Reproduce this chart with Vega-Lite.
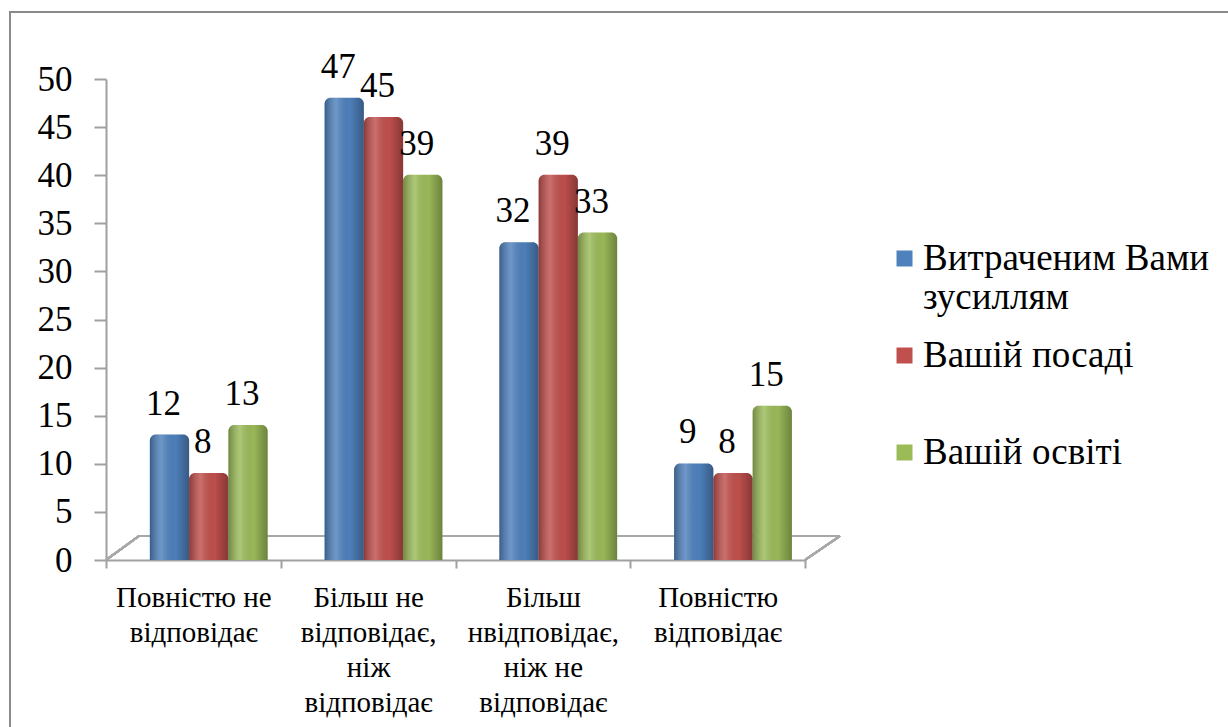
{
  "$schema": "https://vega.github.io/schema/vega-lite/v6.json",
  "width": 1224,
  "height": 721,
  "autosize": {"type": "none"},
  "padding": {"left": 10, "top": 12, "right": -6, "bottom": -6},
  "background": "white",
  "config": {"view": {"stroke": "#8a8a8a", "strokeWidth": 2}, "font": "Liberation Serif"},
  "data": {
    "values": [
      {"category": "Повністю не відповідає", "series": "Витраченим Вами зусиллям", "value": 12},
      {"category": "Повністю не відповідає", "series": "Вашій посаді", "value": 8},
      {"category": "Повністю не відповідає", "series": "Вашій освіті", "value": 13},
      {"category": "Більш не відповідає, ніж відповідає", "series": "Витраченим Вами зусиллям", "value": 47},
      {"category": "Більш не відповідає, ніж відповідає", "series": "Вашій посаді", "value": 45},
      {"category": "Більш не відповідає, ніж відповідає", "series": "Вашій освіті", "value": 39},
      {"category": "Більш нвідповідає, ніж не відповідає", "series": "Витраченим Вами зусиллям", "value": 32},
      {"category": "Більш нвідповідає, ніж не відповідає", "series": "Вашій посаді", "value": 39},
      {"category": "Більш нвідповідає, ніж не відповідає", "series": "Вашій освіті", "value": 33},
      {"category": "Повністю відповідає", "series": "Витраченим Вами зусиллям", "value": 9},
      {"category": "Повністю відповідає", "series": "Вашій посаді", "value": 8},
      {"category": "Повністю відповідає", "series": "Вашій освіті", "value": 15}
    ]
  },
  "encoding": {
    "x": {
      "field": "category",
      "type": "nominal",
      "sort": null,
      "scale": {
        "domain": ["Повністю не відповідає", "Більш не відповідає, ніж відповідає", "Більш нвідповідає, ніж не відповідає", "Повністю відповідає"],
        "range": [96, 795],
        "paddingInner": 0,
        "paddingOuter": 0
      },
      "axis": {
        "title": null,
        "offset": -173,
        "labelAngle": 0,
        "tickBand": "extent",
        "tickSize": 8,
        "tickWidth": 2,
        "tickColor": "#a0a0a0",
        "domainColor": "#a0a0a0",
        "domainWidth": 2,
        "labelFont": "Liberation Serif",
        "labelFontSize": 29,
        "labelColor": "black",
        "labelLineHeight": 35,
        "labelBaseline": "top",
        "labelPadding": 15,
        "labelLimit": 300,
        "labelExpr": "datum.value == 'Повністю не відповідає' ? ['Повністю не', 'відповідає'] : datum.value == 'Більш не відповідає, ніж відповідає' ? ['Більш не', 'відповідає,', 'ніж', 'відповідає'] : datum.value == 'Більш нвідповідає, ніж не відповідає' ? ['Більш', 'нвідповідає,', 'ніж не', 'відповідає'] : datum.value == 'Повністю відповідає' ? ['Повністю', 'відповідає'] : ''"
      }
    },
    "xOffset": {
      "field": "series",
      "type": "nominal",
      "sort": ["Витраченим Вами зусиллям", "Вашій посаді", "Вашій освіті"],
      "scale": {"paddingInner": 0, "paddingOuter": 0.725, "align": 0.77}
    },
    "y": {
      "field": "value",
      "type": "quantitative",
      "stack": null,
      "scale": {"domain": [0, 50], "nice": false, "range": [548, 67]},
      "axis": {
        "title": null,
        "offset": -96,
        "grid": false,
        "values": [0, 5, 10, 15, 20, 25, 30, 35, 40, 45, 50],
        "domainColor": "#a0a0a0",
        "domainWidth": 2,
        "tickColor": "#a0a0a0",
        "tickWidth": 2,
        "tickSize": 12,
        "labelPadding": 22,
        "labelFont": "Liberation Serif",
        "labelFontSize": 35,
        "labelColor": "black"
      }
    }
  },
  "layer": [
    {
      "mark": {"type": "rule", "color": "#a8a8a8", "strokeWidth": 2, "yOffset": -24, "xOffset": 33, "x2Offset": 35},
      "encoding": {
        "x": {"datum": "Повністю не відповідає", "type": "nominal", "bandPosition": 0},
        "x2": {"datum": "Повністю відповідає", "bandPosition": 1},
        "y": {"datum": 0},
        "xOffset": null
      }
    },
    {
      "mark": {"type": "rule", "color": "#a8a8a8", "strokeWidth": 2, "x2Offset": 33, "y2Offset": -24},
      "encoding": {
        "x": {"datum": "Повністю не відповідає", "type": "nominal", "bandPosition": 0},
        "x2": {"datum": "Повністю не відповідає", "bandPosition": 0},
        "y": {"datum": 0},
        "y2": {"datum": 0},
        "xOffset": null
      }
    },
    {
      "mark": {"type": "rule", "color": "#a8a8a8", "strokeWidth": 2, "x2Offset": 35, "y2Offset": -24},
      "encoding": {
        "x": {"datum": "Повністю відповідає", "type": "nominal", "bandPosition": 1},
        "x2": {"datum": "Повністю відповідає", "bandPosition": 1},
        "y": {"datum": 0},
        "y2": {"datum": 0},
        "xOffset": null
      }
    },
    {
      "mark": {"type": "bar", "yOffset": -10, "y2Offset": -10, "cornerRadiusTopLeft": 6, "cornerRadiusTopRight": 6},
      "encoding": {
        "color": {
          "field": "series",
          "type": "nominal",
          "sort": ["Витраченим Вами зусиллям", "Вашій посаді", "Вашій освіті"],
          "scale": {
            "domain": ["Витраченим Вами зусиллям", "Вашій посаді", "Вашій освіті"],
            "range": ["#4F81BD", "#C0504D", "#9BBB59"]
          },
          "legend": {
            "title": null,
            "orient": "none",
            "legendX": 876,
            "legendY": 228,
            "padding": 0,
            "symbolType": "square",
            "symbolSize": 256,
            "symbolStrokeWidth": 0,
            "symbolOpacity": 1,
            "labelFont": "Liberation Serif",
            "labelFontSize": 37,
            "labelColor": "black",
            "labelLimit": 400,
            "labelOffset": 0,
            "labelLineHeight": 37,
            "rowPadding": 20,
            "labelExpr": "datum.label == 'Витраченим Вами зусиллям' ? ['Витраченим Вами', 'зусиллям'] : [datum.label, ' ']"
          }
        }
      }
    },
    {
      "mark": {
        "type": "bar",
        "yOffset": -10,
        "y2Offset": -10,
        "cornerRadiusTopLeft": 6,
        "cornerRadiusTopRight": 6,
        "fill": {
          "gradient": "linear",
          "x1": 0, "x2": 1, "y1": 0, "y2": 0,
          "stops": [
            {"offset": 0, "color": "rgba(0,0,0,0.28)"},
            {"offset": 0.3, "color": "rgba(255,255,255,0.18)"},
            {"offset": 0.65, "color": "rgba(0,0,0,0.02)"},
            {"offset": 1, "color": "rgba(0,0,0,0.3)"}
          ]
        }
      }
    },
    {
      "mark": {"type": "text", "baseline": "alphabetic", "dy": -30, "dx": -6, "font": "Liberation Serif", "fontSize": 35, "color": "black"},
      "encoding": {"text": {"field": "value", "type": "quantitative"}}
    }
  ]
}
